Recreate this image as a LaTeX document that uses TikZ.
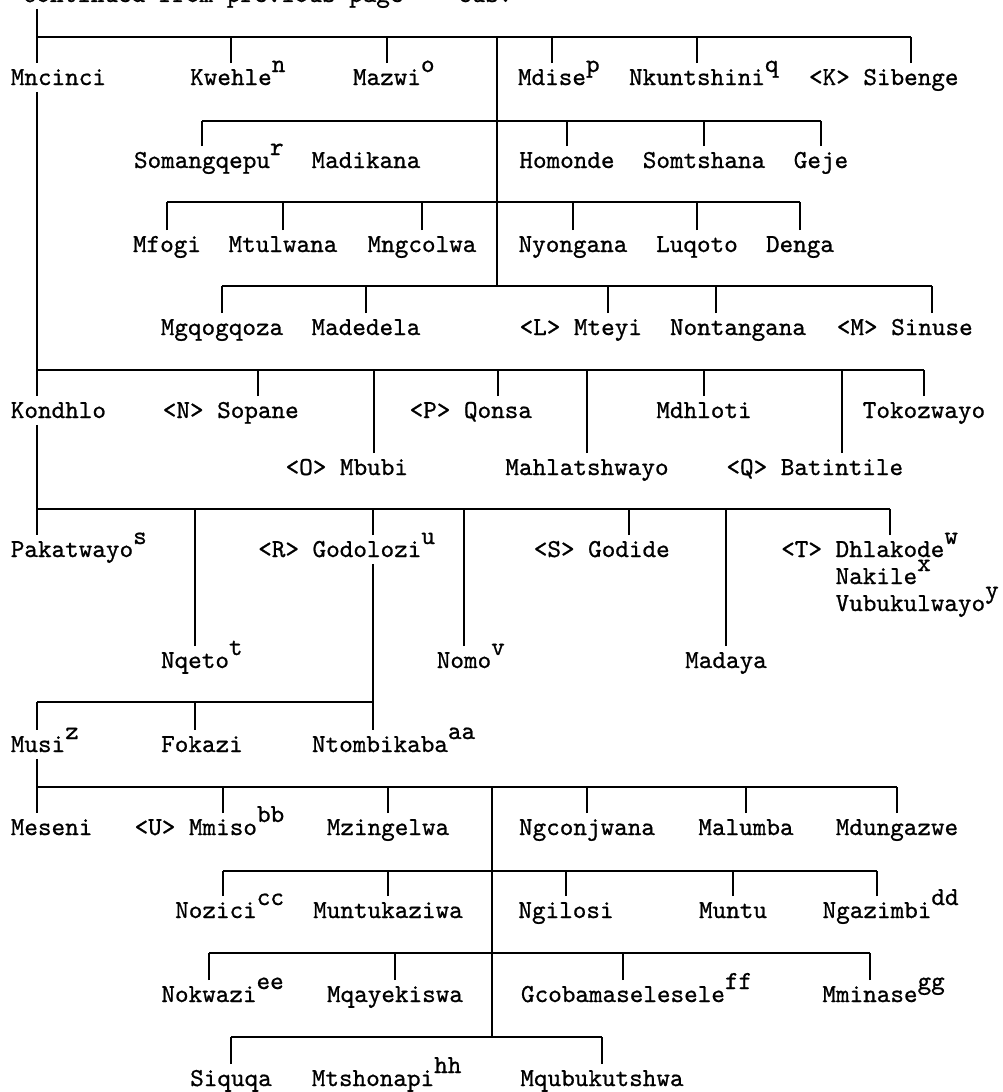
\documentclass[tikz,border=0pt]{standalone}
\usepackage{fontspec}
\usepackage{tikz}
\newfontfamily\typefont[Extension=.otf, FakeBold=0.8]{lmmono10-regular}
\newcommand\refmark[1]{\rlap{\raisebox{6.5pt}{#1}}}
\newcommand\kin[1]{\llap{<#1> }}

\begin{document}
\begin{tikzpicture}[x=0.5pt, y=-0.5pt, thick,
    person/.style={font=\typefont\fontsize{12.95pt}{13.5pt}\selectfont, inner xsep=0pt, inner ysep=3pt,
      text height=7.5pt, text depth=0pt, anchor=base}]
        \fill[white] (0,0) rectangle (1002,1092);
        \useasboundingbox (0,0) rectangle (1002,1092);

        % fixed lines
        \coordinate (trunk) at (37,0);
        \coordinate (mid1) at (497,0);
        \coordinate (mid2) at (492,0);
        \coordinate (godline) at (373,0);
        \coordinate (nontline) at (716,0);
        \coordinate (fokline) at (195,0);
        \coordinate (nozline) at (223,0);
        \coordinate (bus1) at (0,37);
        \coordinate (bus2) at (0,121);
        \coordinate (bus3) at (0,202);
        \coordinate (bus4) at (0,286);
        \coordinate (bus5) at (0,370);
        \coordinate (bus6) at (0,509);
        \coordinate (bus7) at (0,702);
        \coordinate (bus8) at (0,787);
        \coordinate (bus9) at (0,871);
        \coordinate (bus10) at (0,953);
        \coordinate (bus11) at (0,1037);

        \node[person, anchor=base west] (Continued) at (22,2) {Continued from previous page -- cus.};

        \node[person, anchor=base west] (Mncinci) at (10,85) {Mncinci};
        \node[person] (Kwehle) at (231,85) {Kwehle\refmark{n}};
        \node[person] (Mazwi) at (387,85) {Mazwi\refmark{o}};
        \node[person] (Mdise) at (552,85) {Mdise\refmark{p}};
        \node[person] (Nkuntshini) at (697,85) {Nkuntshini\refmark{q}};
        \node[person] (Sibenge) at (911,85) {\kin{K}Sibenge};

        \node[person] (Somangqepu) at (202,168) {Somangqepu\refmark{r}};
        \node[person] (Madikana) at (366,168) {Madikana};
        \node[person] (Homonde) at (567,168) {Homonde};
        \node[person] (Somtshana) at (704,168) {Somtshana};
        \node[person] (Geje) at (821,168) {Geje};

        \node[person] (Mfogi) at (167,252) {Mfogi};
        \node[person] (Mtulwana) at (283,252) {Mtulwana};
        \node[person] (Mngcolwa) at (422,252) {Mngcolwa};
        \node[person] (Nyongana) at (573,252) {Nyongana};
        \node[person] (Luqoto) at (697,252) {Luqoto};
        \node[person] (Denga) at (800,252) {Denga};

        \node[person] (Mgqogqoza) at (222,335) {Mgqogqoza};
        \node[person] (Madedela) at (366,335) {Madedela};
        \node[person] (Mteyi) at (608,335) {\kin{L}Mteyi};
        \node[person] (Nontangana) at (738,335) {Nontangana};
        \node[person] (Sinuse) at (932,335) {\kin{M}Sinuse};

        \node[person, anchor=base west] (Kondhlo) at (10,418) {Kondhlo};
        \node[person] (Sopane) at (258,418) {\kin{N}Sopane};
        \node[person] (Mbubi) at (374,475) {\kin{O}Mbubi};
        \node[person] (Qonsa) at (498,418) {\kin{P}Qonsa};
        \node[person] (Mahlatshwayo) at (587,475) {Mahlatshwayo};
        \node[person] (Mdhloti) at (704,418) {Mdhloti};
        \node[person] (Batintile) at (842,475) {\kin{Q}Batintile};
        \node[person] (Tokozwayo) at (924,418) {Tokozwayo};

        \node[person, anchor=base west] (Pakatwayo) at (10,557) {Pakatwayo\refmark{s}};
        \node[person] (Nqeto) at (195,668) {Nqeto\refmark{t}};
        \node[person] (Godolozi) at (367,557) {\kin{R}Godolozi\refmark{u}};
        \node[person] (Nomo) at (464,668) {Nomo\refmark{v}};
        \node[person] (Godide) at (629,557) {\kin{S}Godide};
        \node[person] (Madaya) at (726,668) {Madaya};
        \node[person] (Dhlakode) at (890,557) {\kin{T}Dhlakode\refmark{w}};
        \node[person, anchor=base west] (Nakile) at ([yshift=-13.5pt]Dhlakode.base west) {Nakile\refmark{x}};
        \node[person, anchor=base west] (Vubukulwayo) at ([yshift=-13.5pt]Nakile.base west) {Vubukulwayo\refmark{y}};

        \node[person, anchor=base west] (Musi) at (10,752) {Musi\refmark{z}};
        \node[person] (Fokazi) at (202,752) {Fokazi};
        \node[person] (Ntombikaba) at (380,752) {Ntombikaba\refmark{aa}};

        \node[person, anchor=base west] (Meseni) at (10,835) {Meseni};
        \node[person] (Mmiso) at (223,835) {\kin{U}Mmiso\refmark{bb}};
        \node[person] (Mzingelwa) at (388,835) {Mzingelwa};
        \node[person] (Ngconjwana) at (587,835) {Ngconjwana};
        \node[person] (Malumba) at (746,835) {Malumba};
        \node[person] (Mdungazwe) at (897,835) {Mdungazwe};

        \node[person] (Nozici) at (216,918) {Nozici\refmark{cc}};
        \node[person] (Muntukaziwa) at (388,918) {Muntukaziwa};
        \node[person] (Ngilosi) at (566,918) {Ngilosi};
        \node[person] (Muntu) at (733,918) {Muntu};
        \node[person] (Ngazimbi) at (877,918) {Ngazimbi\refmark{dd}};

        \node[person] (Nokwazi) at (209,1002) {Nokwazi\refmark{ee}};
        \node[person] (Mqayekiswa) at (395,1002) {Mqayekiswa};
        \node[person] (Gcobamaselesele) at (623,1002) {Gcobamaselesele\refmark{ff}};
        \node[person] (Mminase) at (870,1002) {Mminase\refmark{gg}};

        \node[person] (Siquqa) at (231,1086) {Siquqa};
        \node[person] (Mtshonapi) at (373,1086) {Mtshonapi\refmark{hh}};
        \node[person] (Mqubukutshwa) at (602,1086) {Mqubukutshwa};

        % trunk on the left
        \draw (Continued.south -| trunk) -- (Mncinci.north -| trunk);
        \draw (Mncinci.south -| trunk) -- (Kondhlo.north -| trunk);
        \draw (Kondhlo.south -| trunk) -- (Pakatwayo.north -| trunk);
        \draw (bus7 -| trunk) -- (Musi.north -| trunk);
        \draw (Musi.south -| trunk) -- (Meseni.north -| trunk);

        \draw (bus1 -| trunk) -- (bus1 -| Sibenge.north);
        \draw (Kwehle.north) -- (Kwehle.north |- bus1);
        \draw (Mazwi.north) -- (Mazwi.north |- bus1);
        \draw (Mdise.north) -- (Mdise.north |- bus1);
        \draw (Nkuntshini.north) -- (Nkuntshini.north |- bus1);
        \draw (Sibenge.north) -- (Sibenge.north |- bus1);
        \draw (bus1 -| mid1) -- (bus4 -| mid1);

        \draw (bus2 -| Somangqepu.north) -- (bus2 -| Geje.north);
        \draw (Somangqepu.north) -- (Somangqepu.north |- bus2);
        \draw (Homonde.north) -- (Homonde.north |- bus2);
        \draw (Somtshana.north) -- (Somtshana.north |- bus2);
        \draw (Geje.north) -- (Geje.north |- bus2);

        \draw (bus3 -| Mfogi.north) -- (bus3 -| Denga.north);
        \draw (Mfogi.north) -- (Mfogi.north |- bus3);
        \draw (Mtulwana.north) -- (Mtulwana.north |- bus3);
        \draw (Mngcolwa.north) -- (Mngcolwa.north |- bus3);
        \draw (Nyongana.north) -- (Nyongana.north |- bus3);
        \draw (Luqoto.north) -- (Luqoto.north |- bus3);
        \draw (Denga.north) -- (Denga.north |- bus3);

        \draw (bus4 -| Mgqogqoza.north) -- (bus4 -| Sinuse.north);
        \draw (Mgqogqoza.north) -- (Mgqogqoza.north |- bus4);
        \draw (Madedela.north) -- (Madedela.north |- bus4);
        \draw (Mteyi.north) -- (Mteyi.north |- bus4);
        \draw (Nontangana.north -| nontline) -- (bus4 -| nontline);
        \draw (Sinuse.north) -- (Sinuse.north |- bus4);

        \draw (bus5 -| trunk) -- (bus5 -| Tokozwayo.north);
        \draw (Sopane.north) -- (Sopane.north |- bus5);
        \draw (Mbubi.north) -- (Mbubi.north |- bus5);
        \draw (Qonsa.north) -- (Qonsa.north |- bus5);
        \draw (Mahlatshwayo.north) -- (Mahlatshwayo.north |- bus5);
        \draw (Mdhloti.north) -- (Mdhloti.north |- bus5);
        \draw (Batintile.north) -- (Batintile.north |- bus5);
        \draw (Tokozwayo.north) -- (Tokozwayo.north |- bus5);

        \draw (bus6 -| trunk) -- (bus6 -| Dhlakode.north);
        \draw (Nqeto.north) -- (Nqeto.north |- bus6);
        \draw (Godolozi.north -| godline) -- (bus6 -| godline);
        \draw (Godolozi.south -| godline) -- (Ntombikaba.north -| godline);
        \draw (Nomo.north) -- (Nomo.north |- bus6);
        \draw (Godide.north) -- (Godide.north |- bus6);
        \draw (Madaya.north) -- (Madaya.north |- bus6);
        \draw (Dhlakode.north) -- (Dhlakode.north |- bus6);

        \draw (bus7 -| trunk) -- (bus7 -| godline);
        \draw (Fokazi.north -| fokline) -- (bus7 -| fokline);

        \draw (bus8 -| trunk) -- (bus8 -| Mdungazwe.north);
        \draw (Mmiso.north) -- (Mmiso.north |- bus8);
        \draw (Mzingelwa.north) -- (Mzingelwa.north |- bus8);
        \draw (Ngconjwana.north) -- (Ngconjwana.north |- bus8);
        \draw (Malumba.north) -- (Malumba.north |- bus8);
        \draw (Mdungazwe.north) -- (Mdungazwe.north |- bus8);
        \draw (bus8 -| mid2) -- (bus11 -| mid2);

        \draw (bus9 -| nozline) -- (bus9 -| Ngazimbi.north);
        \draw (Nozici.north -| nozline) -- (bus9 -| nozline);
        \draw (Muntukaziwa.north) -- (Muntukaziwa.north |- bus9);
        \draw (Ngilosi.north) -- (Ngilosi.north |- bus9);
        \draw (Muntu.north) -- (Muntu.north |- bus9);
        \draw (Ngazimbi.north) -- (Ngazimbi.north |- bus9);

        \draw (bus10 -| Nokwazi.north) -- (bus10 -| Mminase.north);
        \draw (Nokwazi.north) -- (Nokwazi.north |- bus10);
        \draw (Mqayekiswa.north) -- (Mqayekiswa.north |- bus10);
        \draw (Gcobamaselesele.north) -- (Gcobamaselesele.north |- bus10);
        \draw (Mminase.north) -- (Mminase.north |- bus10);

        \draw (bus11 -| Siquqa.north) -- (bus11 -| Mqubukutshwa.north);
        \draw (Siquqa.north) -- (Siquqa.north |- bus11);
        \draw (Mqubukutshwa.north) -- (Mqubukutshwa.north |- bus11);
    \end{tikzpicture}
\end{document}
